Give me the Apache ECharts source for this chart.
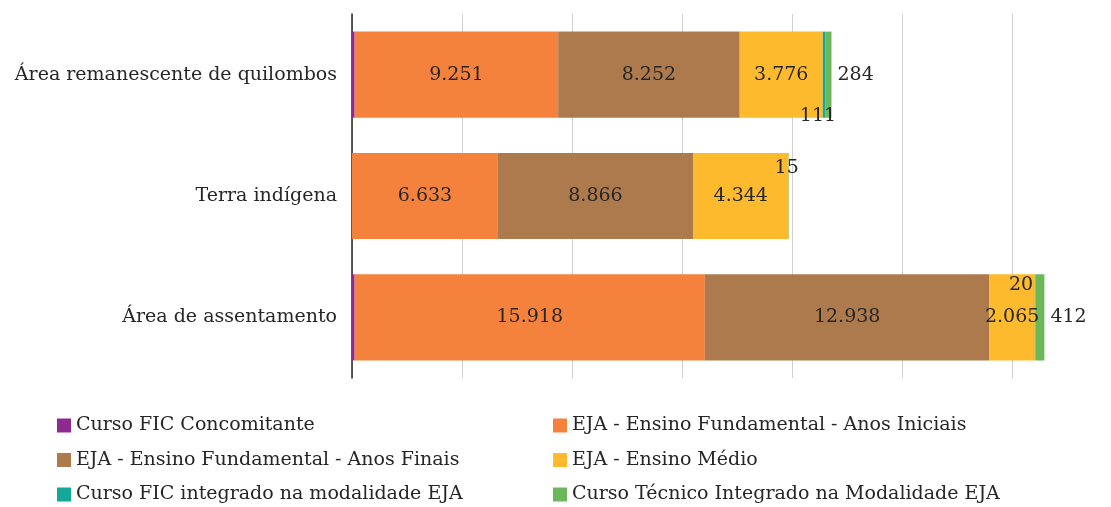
<!DOCTYPE html>
<html>
<head>
<meta charset="utf-8">
<script src="https://cdn.jsdelivr.net/npm/echarts@6/dist/echarts.min.js"></script>
<style>
  html, body { margin: 0; padding: 0; background: #fff; }
  #myChart { width: 1111px; height: 507px; }
</style>
</head>
<body>
<div id="myChart"></div>
<script>
// categorias (de cima para baixo)
var categorias = ['Área remanescente de quilombos', 'Terra indígena', 'Área de assentamento'];

var ficConcomitante = [120, 0, 120];
var ejaAnosIniciais = [9251, 6633, 15918];
var ejaAnosFinais = [8252, 8866, 12938];
var ejaMedio = [3776, 4344, 2065];
var ficIntegrado = [111, 0, 20];
var tecnicoIntegrado = [284, 15, 412];

var FONTE = 'DejaVu Serif';

function fmt(v) {
    if (!v) return '';
    return String(v).replace(/\B(?=(\d{3})+(?!\d))/g, '.');
}

// rótulos pequenos fora da barra, como no original
var rotulosFicIntegrado = [
    { position: 'inside', offset: [-6, 41] },
    null,
    { position: 'inside', offset: [-14, -32] }
];
var rotulosTecnico = [
    { position: 'right', distance: 6 },
    { position: 'inside', offset: [-2, -28] },
    { position: 'right', distance: 6 }
];

function montar(valores, extra) {
    return valores.map(function (v, i) {
        var item = { value: v };
        if (extra && extra[i]) item.label = extra[i];
        return item;
    });
}

function serie(nome, cor, dados, mostrar) {
    return {
        name: nome,
        type: 'bar',
        stack: 'total',
        barCategoryGap: '29%',
        itemStyle: { color: cor },
        label: {
            show: mostrar,
            position: 'inside',
            color: '#262626',
            fontFamily: FONTE,
            fontSize: 19,
            formatter: function (p) { return fmt(p.value); }
        },
        data: dados
    };
}

function _initChart() {
    var myChart = echarts.init(document.getElementById('myChart'));
    var legendaTexto = { fontFamily: FONTE, fontSize: 19, color: '#262626' };
    var option = {
        animation: false,
        grid: { left: 352, top: 14, bottom: 129, width: 770, outerBoundsMode: 'none' },
        xAxis: {
            type: 'value',
            min: 0,
            max: 35000,
            interval: 5000,
            axisLabel: { show: false },
            axisLine: { show: false },
            axisTick: { show: false },
            splitLine: { lineStyle: { color: '#d0d0d0', width: 1 } }
        },
        yAxis: {
            type: 'category',
            inverse: true,
            data: categorias,
            axisTick: { show: false },
            axisLine: { lineStyle: { color: '#262626', width: 1.5 } },
            axisLabel: { fontFamily: FONTE, fontSize: 19, color: '#262626', margin: 15 }
        },
        legend: [
            {
                orient: 'vertical', left: 52, top: 411, height: 100, itemGap: 15.5,
                itemWidth: 14, itemHeight: 14, icon: 'rect',
                textStyle: legendaTexto,
                data: ['Curso FIC Concomitante', 'EJA - Ensino Fundamental - Anos Finais', 'Curso FIC integrado na modalidade EJA']
            },
            {
                orient: 'vertical', left: 548, top: 411, height: 100, itemGap: 15.5,
                itemWidth: 14, itemHeight: 14, icon: 'rect',
                textStyle: legendaTexto,
                data: ['EJA - Ensino Fundamental - Anos Iniciais', 'EJA - Ensino Médio', 'Curso Técnico Integrado na Modalidade EJA']
            }
        ],
        series: [
            serie('Curso FIC Concomitante', '#8e2a8f', montar(ficConcomitante), false),
            serie('EJA - Ensino Fundamental - Anos Iniciais', '#f4823c', montar(ejaAnosIniciais), true),
            serie('EJA - Ensino Fundamental - Anos Finais', '#ac7a4c', montar(ejaAnosFinais), true),
            serie('EJA - Ensino Médio', '#fdba2c', montar(ejaMedio), true),
            serie('Curso FIC integrado na modalidade EJA', '#14a79a', montar(ficIntegrado, rotulosFicIntegrado), true),
            serie('Curso Técnico Integrado na Modalidade EJA', '#6ab85a', montar(tecnicoIntegrado, rotulosTecnico), true)
        ]
    };
    myChart.setOption(option);
}

_initChart();
</script>
</body>
</html>
